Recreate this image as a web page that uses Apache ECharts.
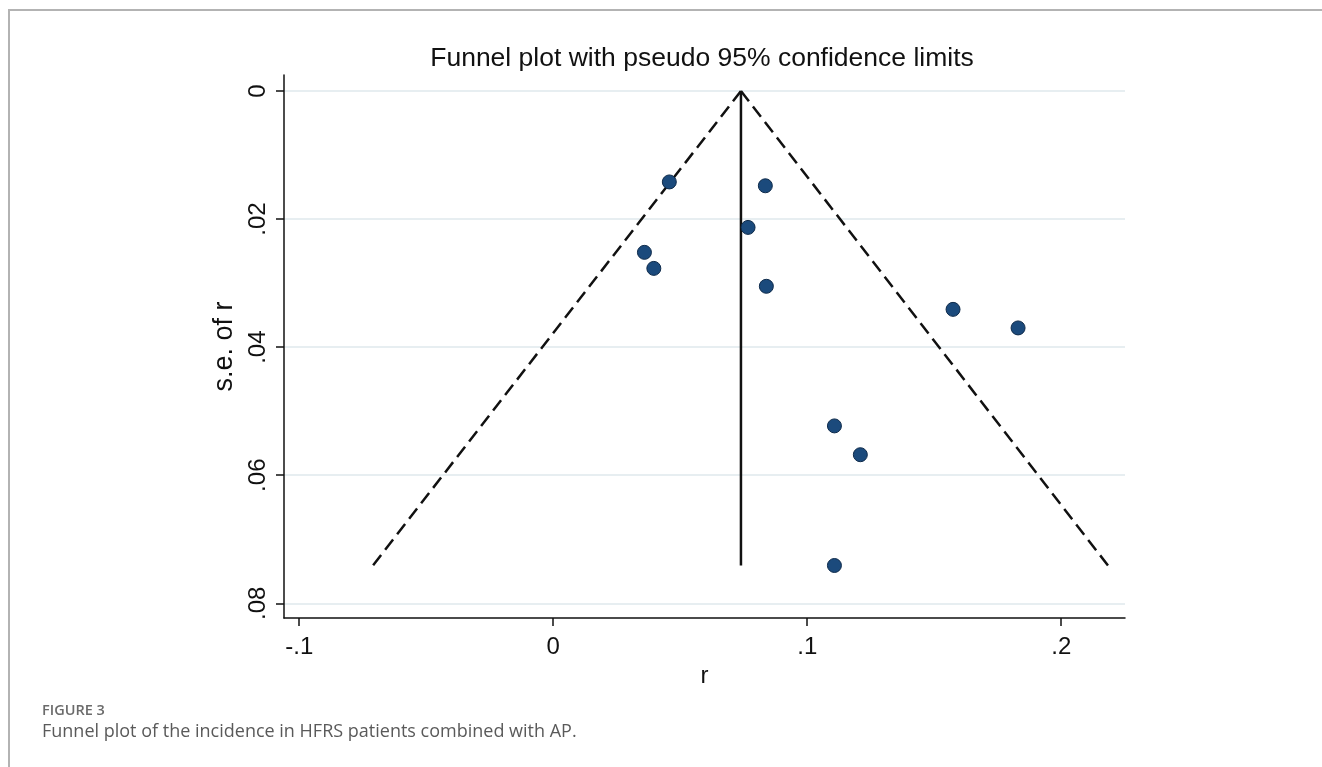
<!DOCTYPE html>
<html>
<head>
<meta charset="utf-8">
<script src="https://cdn.jsdelivr.net/npm/echarts@6/dist/echarts.min.js"></script>
<style>
  html, body { margin: 0; padding: 0; background: #fff; }
  #frame { position: absolute; left: 8px; top: 9px; width: 1314px; height: 758px;
           border-left: 2px solid #b3b3b3; border-top: 2px solid #b3b3b3; box-sizing: border-box; }
  #chart { position: absolute; left: 0; top: 0; width: 1322px; height: 767px; }
</style>
</head>
<body>
<div id="frame"></div>
<div id="chart"></div>
<script>
// ---- data ----
const studyR  = [0.0457, 0.0835, 0.0767, 0.0359, 0.0396, 0.0839, 0.1574, 0.1830, 0.1107, 0.1209, 0.1107];
const studySE = [0.0142, 0.0148, 0.0213, 0.0252, 0.0277, 0.0305, 0.0341, 0.0370, 0.0523, 0.0568, 0.0741];
const pooledR = 0.0739;        // vertical line / funnel apex
const funnelBottomSE = 0.0741; // depth of the funnel
const funnelLeftR = -0.0710;   // lower 95% limit at the bottom
const funnelRightR = 0.2184;   // upper 95% limit at the bottom
const xTickValues = [-0.1, 0, 0.1, 0.2];
const xTickLabels = ['-.1', '0', '.1', '.2'];
const yTickValues = [0, 0.02, 0.04, 0.06, 0.08];
const yTickLabels = ['0', '.02', '.04', '.06', '.08'];
const chartTitle = 'Funnel plot with pseudo 95% confidence limits';
const xName = 'r';
const yName = 's.e. of r';
const figLabel = 'FIGURE 3';
const figCaption = 'Funnel plot of the incidence in HFRS patients combined with AP.';

const chart = echarts.init(document.getElementById('chart'), null, { renderer: 'canvas' });
const axisFont = 'Liberation Sans, Arial, sans-serif';
const lineBlack = '#111';

const points = studyR.map((r, i) => [r, studySE[i]]);

function labelFor(values, labels) {
  return v => {
    for (let i = 0; i < values.length; i++) if (Math.abs(values[i] - v) < 1e-9) return labels[i];
    return '';
  };
}

const dash = [13, 6.57];

chart.setOption({
  animation: false,
  grid: { left: 284, right: 197, top: 75, bottom: 149, containLabel: false },
  xAxis: {
    type: 'value', min: -0.106, max: 0.2251,
    name: xName, nameLocation: 'middle', nameGap: 38,
    nameTextStyle: { fontSize: 24, color: lineBlack, fontFamily: axisFont },
    axisLine: { show: true, onZero: false, lineStyle: { color: lineBlack, width: 1.5 } },
    axisTick: { show: true, length: 8, customValues: xTickValues, lineStyle: { color: lineBlack, width: 1.5 } },
    axisLabel: { customValues: xTickValues, formatter: labelFor(xTickValues, xTickLabels),
                 fontSize: 24, color: lineBlack, fontFamily: axisFont, margin: 17 },
    splitLine: { show: false }
  },
  yAxis: {
    type: 'value', inverse: true, min: -0.0025, max: 0.0823,
    name: yName, nameLocation: 'middle', nameGap: 36,
    nameTextStyle: { fontSize: 27, color: lineBlack, fontFamily: axisFont },
    axisLine: { show: true, onZero: false, lineStyle: { color: lineBlack, width: 1.5 } },
    axisTick: { show: true, length: 8, customValues: yTickValues, lineStyle: { color: lineBlack, width: 1.5 } },
    axisLabel: { customValues: yTickValues, formatter: labelFor(yTickValues, yTickLabels), rotate: 90,
                 fontSize: 24, color: lineBlack, fontFamily: axisFont, margin: 14 },
    splitLine: { show: true, lineStyle: { color: '#dfe9ed', width: 1.5 } }
  },
  graphic: [
    { type: 'text', x: 702, y: 45,
      style: { text: chartTitle, fontSize: 26.5, fill: '#111', fontFamily: axisFont, align: 'center' } },
    { type: 'text', left: 42, top: 703,
      style: { text: figLabel, fontSize: 14.5, fill: '#6b6b6b', fontFamily: 'Open Sans, sans-serif', fontWeight: 600 } },
    { type: 'text', left: 42, top: 723,
      style: { text: figCaption, fontSize: 18, fill: '#5a5a5a', fontFamily: 'Open Sans, sans-serif' } }
  ],
  series: [
    { type: 'line', data: [[pooledR, 0], [funnelLeftR, funnelBottomSE]], symbol: 'none', silent: true,
      lineStyle: { color: lineBlack, width: 2.5, type: dash } },
    { type: 'line', data: [[pooledR, 0], [funnelRightR, funnelBottomSE]], symbol: 'none', silent: true,
      lineStyle: { color: lineBlack, width: 2.5, type: dash } },
    { type: 'line', data: [[pooledR, 0], [pooledR, funnelBottomSE]], symbol: 'none', silent: true,
      lineStyle: { color: lineBlack, width: 2.5, type: 'solid' } },
    { type: 'scatter', data: points, symbol: 'circle', symbolSize: 14, z: 5,
      itemStyle: { color: '#1b4a7c', borderColor: '#0e2a4a', borderWidth: 1, opacity: 1 } }
  ]
});
</script>
</body>
</html>
